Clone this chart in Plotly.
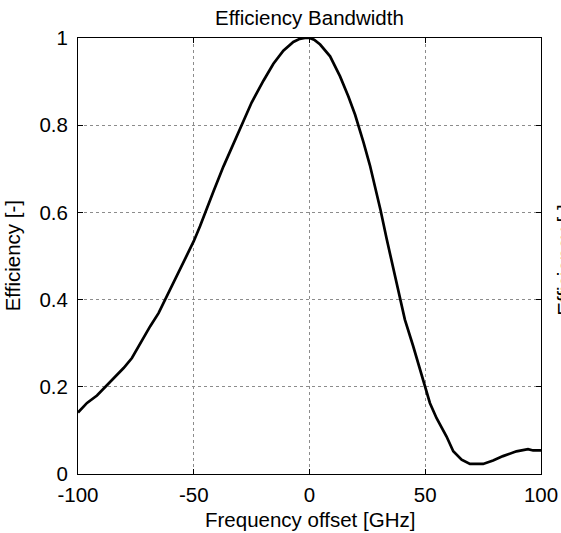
import plotly.graph_objects as go

freq_ghz = [-100, -96.1, -91.8, -88.2, -84.6, -80.3, -76.7, -73.9, -68.8, -65.2,
            -62.4, -58.8, -54.5, -50.0, -47.3, -45.1, -41.5, -37.2, -32.9, -29.7,
            -25.0, -19.9, -15.6, -11.3, -7.0, -4.2, -2.0, 0.0, 2.0, 4.6, 8.9,
            13.2, 16.8, 19.7, 21.1, 23.3, 26.1, 29.0, 30.7, 33.3, 36.2, 39.1,
            41.2, 44.8, 47.7, 50.0, 52.0, 54.9, 59.2, 62.1, 65.7, 69.3, 75.0,
            79.3, 83.6, 89.4, 94.4, 96.6, 100.0]
efficiency = [0.141, 0.163, 0.180, 0.200, 0.220, 0.243, 0.266, 0.293, 0.339, 0.369,
              0.400, 0.438, 0.484, 0.534, 0.568, 0.600, 0.648, 0.705, 0.757, 0.798,
              0.852, 0.902, 0.941, 0.971, 0.991, 0.998, 1.000, 1.000, 0.996, 0.985, 0.958,
              0.912, 0.866, 0.824, 0.800, 0.761, 0.708, 0.646, 0.605, 0.540, 0.472, 0.402,
              0.354, 0.293, 0.239, 0.200, 0.163, 0.128, 0.086, 0.052, 0.033, 0.023, 0.023,
              0.031, 0.041, 0.052, 0.057, 0.054, 0.054]

x_ticks = [-100, -50, 0, 50, 100]
x_tick_labels = ["-100", "-50", "0", "50", "100"]
y_ticks = [0, 0.2, 0.4, 0.6, 0.8, 1.0]
y_tick_labels = ["0", "0.2", "0.4", "0.6", "0.8", "1"]

title_text = "Efficiency Bandwidth"
x_label = "Frequency offset [GHz]"
y_label = "Efficiency [-]"

FONT = "Liberation Sans, Arial, sans-serif"
FS = 20.5

fig = go.Figure()
fig.add_trace(go.Scatter(x=freq_ghz, y=efficiency, mode="lines",
                         line=dict(color="black", width=2.7),
                         showlegend=False, hoverinfo="skip"))

axis_common = dict(showline=True, linecolor="black", linewidth=1, mirror="allticks",
                   ticks="inside", ticklen=5, tickwidth=1, tickcolor="black",
                   showgrid=True, gridcolor="#8c8c8c", gridwidth=1, griddash="dot",
                   zeroline=False, automargin=False,
                   tickfont=dict(family=FONT, size=FS, color="black"))

fig.update_xaxes(range=[-100, 100], tickvals=x_ticks, ticktext=x_tick_labels,
                 ticklabelstandoff=2, **axis_common)
fig.update_yaxes(range=[0, 1], tickvals=y_ticks, ticktext=y_tick_labels,
                 ticklabelstandoff=5, **axis_common)

fig.update_layout(
    width=561, height=533,
    margin=dict(l=78, r=20, t=38, b=59, autoexpand=False),
    paper_bgcolor="white", plot_bgcolor="white",
    font=dict(family=FONT, size=FS, color="black"),
    annotations=[
        dict(text=title_text, xref="paper", yref="paper", x=0.5, y=1 + (38.3 - 18) / 436,
             xanchor="center", yanchor="middle", showarrow=False,
             font=dict(family=FONT, size=FS, color="black")),
        dict(text=x_label, xref="paper", yref="paper", x=0.5, y=-(520 - 474.3) / 436,
             xanchor="center", yanchor="middle", showarrow=False,
             font=dict(family=FONT, size=FS, color="black")),
        dict(text=y_label, xref="paper", yref="paper", x=(12 - 77.7) / 463, y=0.5,
             xanchor="center", yanchor="middle", textangle=-90, showarrow=False,
             font=dict(family=FONT, size=FS, color="black")),
        dict(text=y_label, xref="paper", yref="paper", x=(564 - 77.7) / 463, y=0.49,
             xanchor="center", yanchor="middle", textangle=-90, showarrow=False,
             font=dict(family=FONT, size=FS, color="black")),
    ],
)

fig.write_html("out.html", config={"displayModeBar": False},
               post_script="document.body.style.margin='0';document.body.style.overflow='hidden';")
